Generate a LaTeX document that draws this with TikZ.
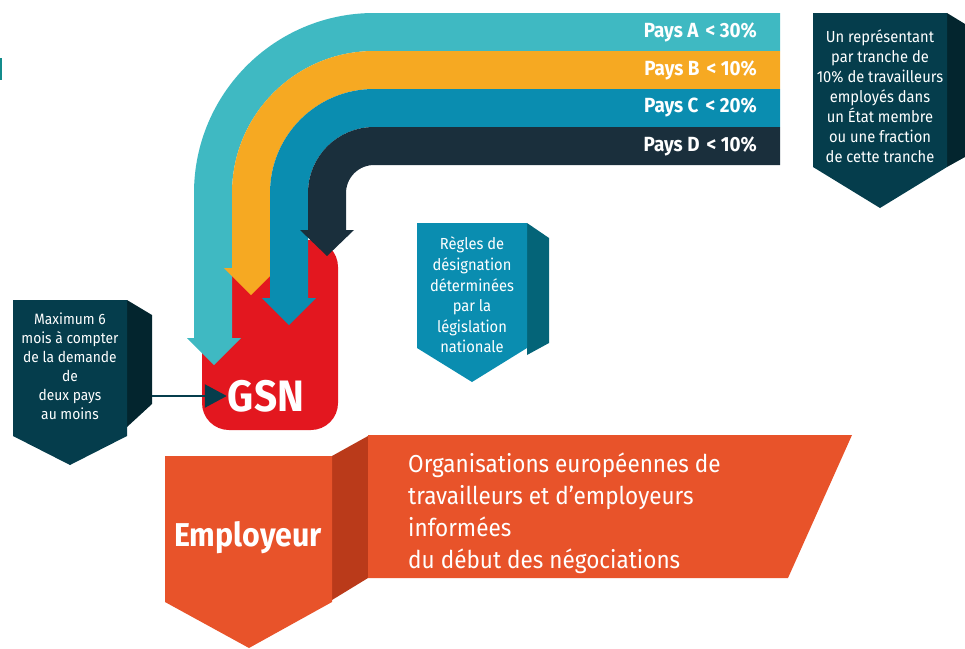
\documentclass[tikz,border=0pt]{standalone}
\usepackage{fontspec}
\setmainfont{Fira Sans}[FakeStretch=0.92]
\usetikzlibrary{positioning,arrows.meta}

\definecolor{paysa}{HTML}{3FB9C2}
\definecolor{paysb}{HTML}{F6A922}
\definecolor{paysc}{HTML}{0A8DB0}
\definecolor{paysd}{HTML}{1A2F3C}
\definecolor{gsnred}{HTML}{E3171F}
\definecolor{navyfront}{HTML}{053D4C}
\definecolor{navyside}{HTML}{03252E}
\definecolor{bluefront}{HTML}{0A8DB0}
\definecolor{blueside}{HTML}{046478}
\definecolor{empfront}{HTML}{E8532A}
\definecolor{empside}{HTML}{BA3A1A}
\definecolor{markteal}{HTML}{138C8C}

\begin{document}
\begin{tikzpicture}[x=1pt,y=-1pt,auto]
                    \tikzstyle{band}=[line width=38]
                    \tikzstyle{paysnote}=[text=white,anchor=east,inner sep=0,font=\bfseries\fontsize{20.5}{20.5}\selectfont]
                    \tikzstyle{boxtext}=[text=white,align=center,inner sep=0,font=\fontsize{16}{20}\selectfont]
                    \tikzstyle{connector}=[draw=navyfront,line width=2.5,-{Triangle[length=22pt,width=23pt]},shorten >=1pt]
                    {
                        \useasboundingbox (0,0) rectangle (965,648);
                        \fill[markteal] (0,58) rectangle (2,80);

                        % GSN body, under the arrows
                        \fill[gsnred,rounded corners=27] (202,240) rectangle (338,430);

                        \draw[band,paysa,rounded corners=161] (780,32) -- (213,32) -- (213,338);
                        \fill[paysa] (187,338) -- (241,338) -- (214,365) -- cycle;
                        \draw[band,paysb,rounded corners=123] (780,70) -- (251,70) -- (251,268);
                        \fill[paysb] (224,268) -- (278,268) -- (251,295) -- cycle;
                        \draw[band,paysc,rounded corners=85] (780,108) -- (289,108) -- (289,298);
                        \fill[paysc] (262,298) -- (316,298) -- (289,325) -- cycle;
                        \draw[band,paysd,rounded corners=47] (780,146) -- (327,146) -- (327,230);
                        \fill[paysd] (300,230) -- (354,230) -- (327,256) -- cycle;

                        \node[paysnote] (paysA) at (757,32) {Pays A\hspace{7pt}< 30\%};
                        \node[paysnote] (paysB) at (757,70) {Pays B\hspace{7pt}< 10\%};
                        \node[paysnote] (paysC) at (757,107) {Pays C\hspace{7pt}< 20\%};
                        \node[paysnote] (paysD) at (757,146) {Pays D\hspace{7pt}< 10\%};

                        % boxes
                        \fill[navyside] (947,13) -- (965,24) -- (965,157) -- (947,167) -- cycle;
                        \fill[navyfront] (813,13) -- (947,13) -- (947,167) -- (880,208) -- (813,167) -- cycle;
                        \node[boxtext] (tranche) at (880,96) {Un représentant\\par tranche de\\10\% de travailleurs\\employés dans\\un État membre\\ou une fraction\\de cette tranche};

                        \fill[blueside] (527,223) -- (549,238) -- (549,343) -- (527,355) -- cycle;
                        \fill[bluefront] (417,223) -- (527,223) -- (527,348) -- (472,382) -- (417,348) -- cycle;
                        \node[boxtext,font=\fontsize{16}{20.6}\selectfont] (regles) at (472,295) {Règles de\\désignation\\déterminées\\par la\\législation\\nationale};

                        \fill[navyside] (127,300) -- (152,315) -- (152,404) -- (127,427) -- cycle;
                        \fill[navyfront] (13,300) -- (127,300) -- (127,436) -- (70,465) -- (13,436) -- cycle;
                        \node[boxtext,font=\fontsize{15}{19}\selectfont] (delai) at (70,366) {Maximum 6\\mois à compter\\de la demande\\de\\deux pays\\au moins};
                        \coordinate (delaiedge) at (152,396);

                        \node[text=white,inner sep=0,font=\bfseries\fontsize{44}{44}\selectfont] (gsn) at (266,396) {GSN};
                        \draw[connector] (delaiedge) -- (delaiedge -| gsn.west);

                        \fill[empside] (332,456) -- (368,436) -- (368,578) -- (332,600) -- cycle;
                        \fill[empfront] (165,456) -- (332,456) -- (332,602) -- (249,648) -- (165,602) -- cycle;
                        \fill[empfront] (368,435) -- (852,435) -- (788,578) -- (368,578) -- cycle;
                        \node[text=white,inner sep=0,font=\bfseries\fontsize{33}{33}\selectfont] (employeur) at (248,538) {Employeur};
                        \node[text=white,inner sep=0,anchor=west,align=left,font=\fontsize{24.5}{32}\selectfont] (orgas) at (408,513) {Organisations européennes de\\travailleurs et d’employeurs\\informées\\du début des négociations};
                    }
\end{tikzpicture}
\end{document}
